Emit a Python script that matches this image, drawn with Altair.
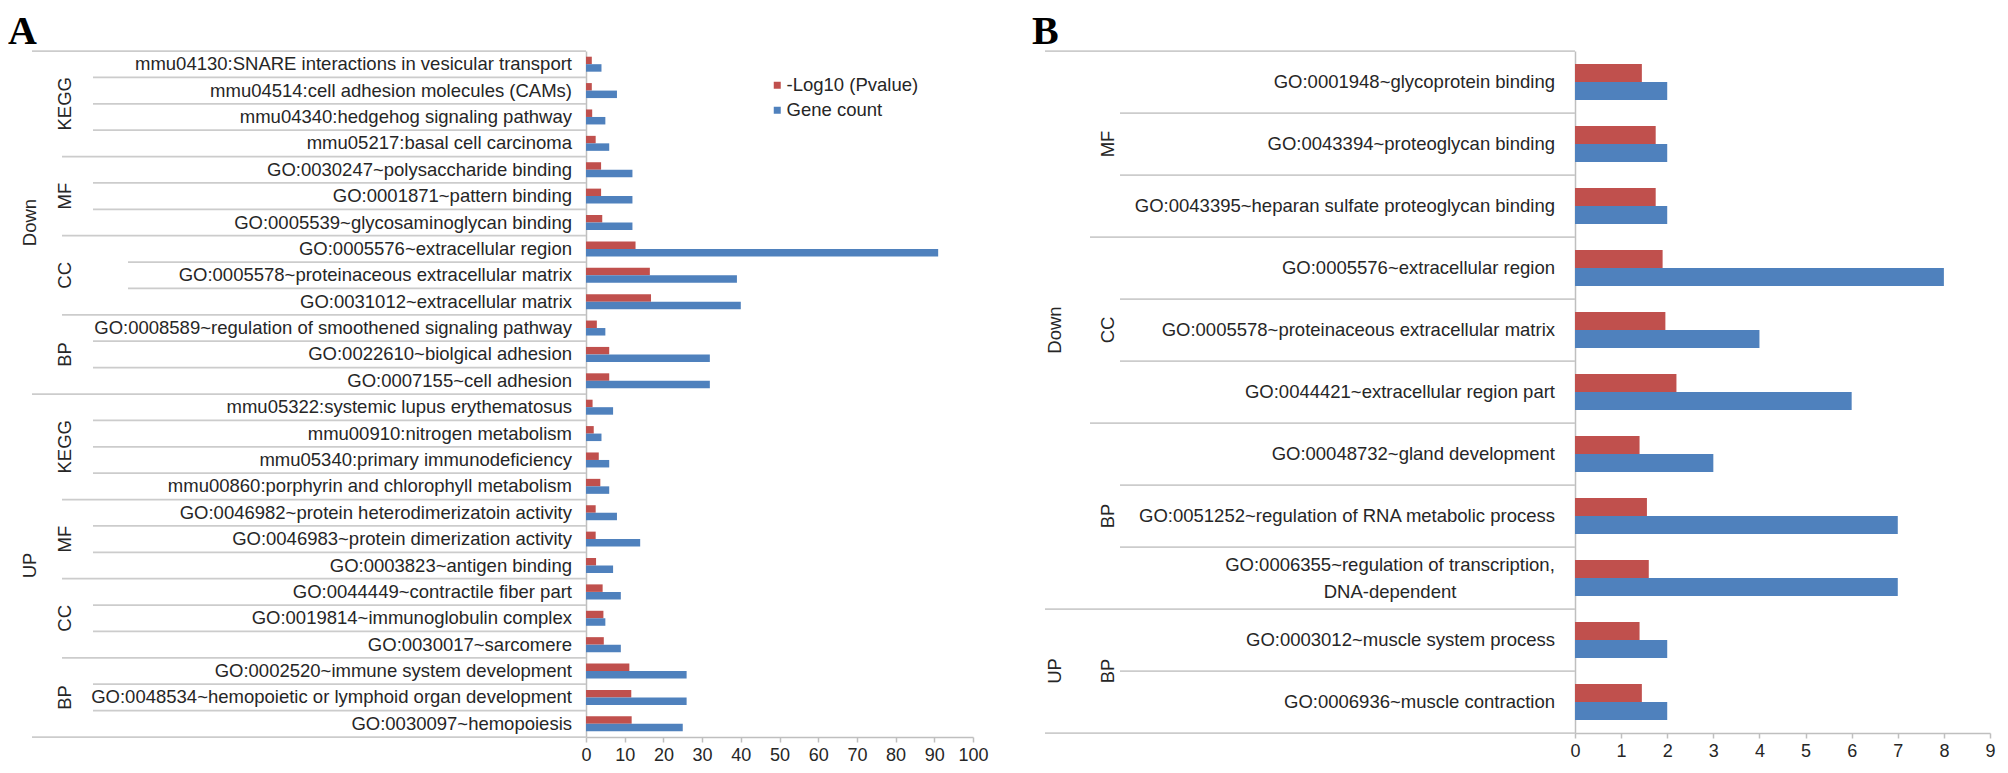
import altair as alt
import pandas as pd

RED = "#C0504D"
BLUE = "#4F81BD"
TEXT = "#262626"
LINE = "#CCCCCC"
AXIS = "#BFBFBF"
FONT = "Liberation Sans"
SERIF = "Liberation Serif"
SERIES = ["-Log10 (Pvalue)", "Gene count"]

# ---------------- Panel A data ----------------
a_direction = ["Down"] * 13 + ["UP"] * 13
a_category = (["KEGG"] * 4 + ["MF"] * 3 + ["CC"] * 3 + ["BP"] * 3) * 2
a_terms = [
    "mmu04130:SNARE interactions in vesicular transport",
    "mmu04514:cell adhesion molecules (CAMs)",
    "mmu04340:hedgehog signaling pathway",
    "mmu05217:basal cell carcinoma",
    "GO:0030247~polysaccharide binding",
    "GO:0001871~pattern binding",
    "GO:0005539~glycosaminoglycan binding",
    "GO:0005576~extracellular region",
    "GO:0005578~proteinaceous extracellular matrix",
    "GO:0031012~extracellular matrix",
    "GO:0008589~regulation of smoothened signaling pathway",
    "GO:0022610~biolgical adhesion",
    "GO:0007155~cell adhesion",
    "mmu05322:systemic lupus erythematosus",
    "mmu00910:nitrogen metabolism",
    "mmu05340:primary immunodeficiency",
    "mmu00860:porphyrin and chlorophyll metabolism",
    "GO:0046982~protein heterodimerizatoin activity",
    "GO:0046983~protein dimerization activity",
    "GO:0003823~antigen binding",
    "GO:0044449~contractile fiber part",
    "GO:0019814~immunoglobulin complex",
    "GO:0030017~sarcomere",
    "GO:0002520~immune system development",
    "GO:0048534~hemopoietic or lymphoid organ development",
    "GO:0030097~hemopoiesis",
]
a_logp = [1.5, 1.5, 1.6, 2.5, 3.9, 3.9, 4.2, 12.8, 16.5, 16.8, 2.8, 6.0, 6.0,
          1.7, 2.0, 3.3, 3.7, 2.5, 2.5, 2.6, 4.3, 4.5, 4.6, 11.2, 11.7, 11.8]
a_count = [4, 8, 5, 6, 12, 12, 12, 91, 39, 40, 5, 32, 32,
           7, 4, 6, 6, 8, 14, 7, 9, 5, 9, 26, 26, 25]
a_ticks = list(range(0, 101, 10))

# ---------------- Panel B data ----------------
b_direction = ["Down"] * 9 + ["UP"] * 2
b_category = ["MF"] * 3 + ["CC"] * 3 + ["BP"] * 3 + ["BP"] * 2
b_terms = [
    "GO:0001948~glycoprotein binding",
    "GO:0043394~proteoglycan binding",
    "GO:0043395~heparan sulfate proteoglycan binding",
    "GO:0005576~extracellular region",
    "GO:0005578~proteinaceous extracellular matrix",
    "GO:0044421~extracellular region part",
    "GO:00048732~gland development",
    "GO:0051252~regulation of RNA metabolic process",
    "GO:0006355~regulation of transcription,\nDNA-dependent",
    "GO:0003012~muscle system process",
    "GO:0006936~muscle contraction",
]
b_logp = [1.45, 1.75, 1.75, 1.9, 1.96, 2.2, 1.4, 1.56, 1.6, 1.4, 1.45]
b_count = [2, 2, 2, 8, 4, 6, 3, 7, 7, 2, 2]
b_ticks = list(range(0, 10))

YAXIS = alt.Axis(labels=False, ticks=False, grid=False, title=None,
                 domainColor=AXIS, domainWidth=1.5)


def group_anchors(keys, labels):
    out = []
    start = 0
    n = len(keys)
    for i in range(1, n + 1):
        if i == n or keys[i] != keys[start]:
            size = i - start
            out.append({"idx": start + size // 2, "label": labels[start],
                        "even": size % 2 == 0})
            start = i
    return pd.DataFrame(out)


def panel(direction, category, terms, logp, count, xmax, ticks, width, height,
          po, offs, letter, legend, short_groups=()):
    n = len(terms)
    levels = []
    for i in range(n):
        if i == 0 or direction[i] != direction[i - 1]:
            levels.append("top")
        elif category[i] != category[i - 1]:
            levels.append("group")
        elif (direction[i], category[i]) in short_groups:
            levels.append("short")
        else:
            levels.append("inner")
    rows = pd.DataFrame({
        "idx": list(range(n)), "direction": direction, "category": category,
        "term": terms, "level": levels,
        "multiline": ["\n" in t for t in terms],
    })
    bars = pd.concat([
        rows.assign(series=SERIES[0], value=logp),
        rows.assign(series=SERIES[1], value=count),
    ], ignore_index=True)
    cats = group_anchors([f"{d}|{c}" for d, c in zip(direction, category)], category)
    dirs = group_anchors(direction, direction)

    yscale = alt.Scale(domain=list(range(n)), paddingInner=0, paddingOuter=0)

    def Y(band=None):
        if band is None:
            return alt.Y("idx:O", scale=yscale, axis=YAXIS)
        return alt.Y("idx:O", scale=yscale, axis=YAXIS, bandPosition=band)

    xaxis = alt.Axis(values=ticks, title=None, grid=False, domainColor=AXIS,
                     domainWidth=1.5, tickColor=AXIS, tickSize=5, tickWidth=1.5,
                     labelFont=FONT, labelFontSize=18, labelColor=TEXT,
                     labelPadding=4, labelFlush=False)

    layers = []
    layers.append(
        alt.Chart(bars).mark_bar().encode(
            x=alt.X("value:Q", scale=alt.Scale(domain=[0, xmax], nice=False), axis=xaxis),
            y=Y(),
            yOffset=alt.YOffset("series:N", scale=alt.Scale(domain=SERIES, paddingInner=0, paddingOuter=po)),
            color=alt.Color("series:N", scale=alt.Scale(domain=SERIES, range=[RED, BLUE]), legend=legend),
        )
    )
    layers.append(
        alt.Chart(rows).transform_filter("!datum.multiline").mark_text(
            align="right", baseline="middle", font=FONT, fontSize=18.5, color=TEXT
        ).encode(x=alt.value(offs["term"]), y=Y(0.5), text="term:N")
    )
    if any(rows["multiline"]):
        layers.append(
            alt.Chart(rows).transform_filter("datum.multiline").mark_text(
                align="center", baseline="middle", font=FONT, fontSize=18.5, color=TEXT,
                lineBreak="\n", lineHeight=27, dy=-13.5
            ).encode(x=alt.value(offs["multi"]), y=Y(0.5), text="term:N")
        )
    for lv in ["inner", "short", "group", "top"]:
        if lv in levels:
            layers.append(
                alt.Chart(rows).transform_filter(f"datum.level == '{lv}'").mark_rule(
                    color=LINE, strokeWidth=1.75
                ).encode(x=alt.value(offs[lv]), x2=alt.value(0), y=Y(0))
            )
    layers.append(
        alt.Chart(rows).transform_filter(f"datum.idx == {n - 1}").mark_rule(
            color=LINE, strokeWidth=1.75
        ).encode(x=alt.value(offs["top"]), x2=alt.value(0), y=Y(1))
    )
    for df, key in [(cats, "cat"), (dirs, "dir")]:
        for even, band in [(True, 0), (False, 0.5)]:
            sub = df[df["even"] == even]
            if len(sub):
                layers.append(
                    alt.Chart(sub).mark_text(
                        angle=270, align="center", baseline="middle", font=FONT,
                        fontSize=18.5, color=TEXT
                    ).encode(x=alt.value(offs[key]), y=Y(band), text="label:N")
                )
    layers.append(
        alt.Chart(pd.DataFrame({"t": [letter]})).mark_text(
            align="left", baseline="alphabetic", font=SERIF, fontWeight="bold",
            fontSize=40, color="black"
        ).encode(x=alt.value(offs["letter"]), y=alt.value(offs["letter_y"]), text="t:N")
    )
    return alt.layer(*layers).properties(width=width, height=height)


legend_a = alt.Legend(orient="none", legendX=182, legendY=25, title=None,
                      symbolType="square", symbolSize=49, symbolStrokeWidth=0,
                      labelFont=FONT, labelFontSize=18.5, labelColor=TEXT,
                      rowPadding=6, labelOffset=0)

offs_a = {"letter": -578, "letter_y": -7, "top": -554, "group": -524,
          "inner": -493, "short": -458, "term": -14, "cat": -521, "dir": -556}
offs_b = {"letter": -543, "letter_y": -7, "top": -530, "group": -485,
          "inner": -455, "short": -455, "term": -20, "multi": -185,
          "cat": -467, "dir": -520}

chart_a = panel(a_direction, a_category, a_terms, a_logp, a_count, 100, a_ticks,
                387, 686, 0.76, offs_a, "A", legend_a, short_groups=[("Down", "CC")])
chart_b = panel(b_direction, b_category, b_terms, b_logp, b_count, 9, b_ticks,
                415, 682, 0.725, offs_b, "B", None)

chart = alt.hconcat(chart_a, chart_b, spacing=602, bounds="flush").resolve_scale(
    x="independent", y="independent", yOffset="independent", color="independent"
).resolve_legend(color="independent").properties(
    padding={"top": 4, "left": 0, "right": 0, "bottom": 0}
).configure_view(stroke=None)

chart.save("out.html", embed_options={"renderer": "svg", "actions": False})
